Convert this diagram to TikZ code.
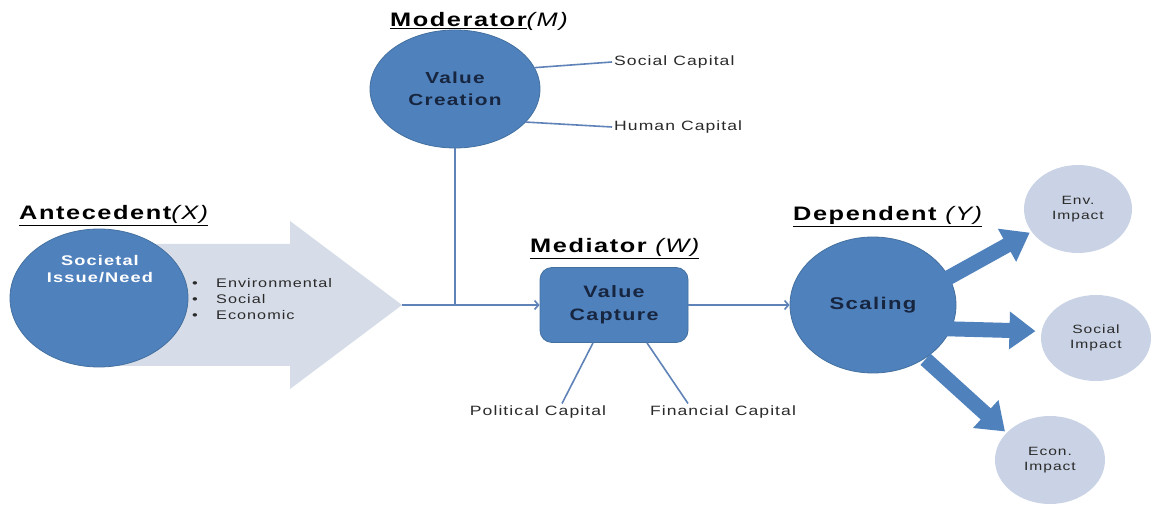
\documentclass[tikz,border=0pt]{standalone}
\usepackage{fontspec}
\setmainfont{Liberation Sans}[FakeStretch=1.3, LetterSpace=8]
\usetikzlibrary{shapes.geometric, arrows.meta, calc}
\definecolor{cblue}{HTML}{4F81BD}
\definecolor{cblueedge}{HTML}{43709F}
\definecolor{clight}{HTML}{D7DDE8}
\definecolor{ccircle}{HTML}{CAD3E5}
\definecolor{cline}{HTML}{5F83B8}
\definecolor{cnavy}{HTML}{17253F}
\definecolor{ctext}{HTML}{2A2A2A}
\tikzset{
  bigcirc/.style={ellipse, fill=cblue, draw=cblueedge, line width=0.8pt, inner sep=0pt},
  impactcirc/.style={ellipse, fill=ccircle, draw=none, inner sep=0pt, align=center, text=ctext, font=\fontsize{12}{15}\selectfont},
  heading/.style={inner sep=0pt, font=\fontsize{19.5}{22}\selectfont, text=black, anchor=base west},
  caplabel/.style={inner sep=2pt, text=ctext, font=\fontsize{13.5}{15}\selectfont},
  conn/.style={draw=cline, line width=1.6pt},
  flow/.style={conn, -{Straight Barb[length=4pt,width=9pt]}},
  fatarrow/.style={draw=cblue, line width=15pt, -{Triangle[width=36pt,length=26pt]}},
}
\begin{document}
\begin{tikzpicture}[x=1pt, y=-1pt]
\useasboundingbox (0,0) rectangle (1151,510);
\fill[white] (0,0) rectangle (1151,510);

% headings
\node[heading] (hA) at (19,220) {\underline{\bfseries Antecedent\mdseries\itshape(X)}};
\node[heading] (hM) at (390,27) {\underline{\bfseries Moderator}\itshape(M)};
\node[heading] (hW) at (530,253) {\underline{\bfseries Mediator \mdseries\itshape(W)}};
\node[heading] (hY) at (793,221) {\underline{\bfseries Dependent \mdseries\itshape(Y)}};

% big light arrow
\fill[clight] (100,244) -- (290,244) -- (290,221) -- (402,305) -- (290,389) -- (290,366) -- (100,366) -- cycle;
\coordinate (atip) at (402,305);

% societal
\node[bigcirc, minimum width=178pt, minimum height=138pt] (soc) at (99,298) {};
\node[align=center, text=white, font=\bfseries\fontsize{14}{17}\selectfont, inner sep=0pt] (soctext) at (100,269) {Societal\\Issue/Need};
\node[anchor=west, align=left, text=ctext, font=\fontsize{12.5}{16}\selectfont, inner sep=0pt] (bullets) at (192,299)
  {\makebox[24pt][l]{\textbullet}Environmental\\\makebox[24pt][l]{\textbullet}Social\\\makebox[24pt][l]{\textbullet}Economic};

% value creation
\node[bigcirc, minimum width=170pt, minimum height=118pt, align=center, text=cnavy, font=\bfseries\fontsize{16}{22}\selectfont] (creation) at (455,89) {Value\\Creation};
\node[caplabel, anchor=west] (socCap) at (612,62) {Social Capital};
\node[caplabel, anchor=west] (humCap) at (612,127) {Human Capital};
\draw[conn] (creation.15) -- (socCap.west);
\draw[conn] (creation.-25) -- (humCap.west);

% value capture
\node[rectangle, rounded corners=12pt, fill=cblue, draw=cblueedge, line width=0.8pt, minimum width=148pt, minimum height=75pt, align=center, text=cnavy, font=\bfseries\fontsize{16.5}{23}\selectfont] (capture) at (614,305) {Value\\Capture};
\node[caplabel] (polCap) at (538,412) {Political Capital};
\node[caplabel] (finCap) at (723,412) {Financial Capital};
\draw[conn] ([xshift=-21pt]capture.south) -- ([xshift=24pt]polCap.north);
\draw[conn] ([xshift=33pt]capture.south) -- ([xshift=-35pt]finCap.north);

% flow lines
\coordinate (junc) at (creation.south |- atip);
\draw[conn] (creation.south) -- (junc);
\draw[flow] (atip) -- (capture.west);

% scaling
\node[bigcirc, minimum width=166pt, minimum height=136pt, text=cnavy, font=\bfseries\fontsize{17}{20}\selectfont] (scaling) at (873,305) {Scaling};
\draw[flow] (capture.east) -- (scaling.west);

% impacts
\node[impactcirc, minimum width=108pt, minimum height=88pt] (env) at (1078,209) {Env.\\Impact};
\node[impactcirc, minimum width=110pt, minimum height=86pt] (social) at (1096,338) {Social\\Impact};
\node[impactcirc, minimum width=110pt, minimum height=88pt] (econ) at (1050,460) {Econ.\\Impact};

\draw[fatarrow, shorten <=-4pt, shorten >=2pt] (scaling.20) -- (env.206);
\draw[fatarrow, shorten <=-4pt, shorten >=6pt] (scaling.-17) -- (social.173);
\draw[fatarrow, shorten <=1pt, shorten >=2pt] (scaling.-46) -- (econ.148);
\end{tikzpicture}
\end{document}
